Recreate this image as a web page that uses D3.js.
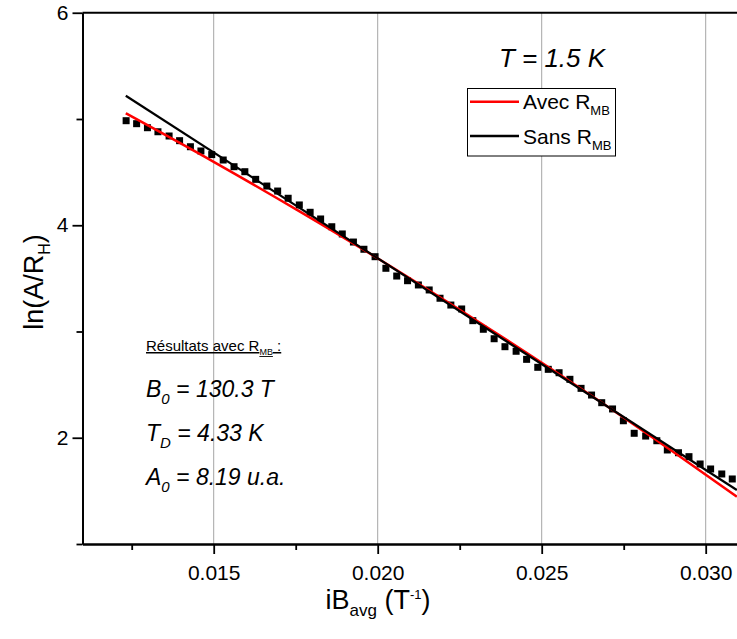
<!DOCTYPE html>
<html><head><meta charset="utf-8">
<script src="https://cdn.jsdelivr.net/npm/d3@7/dist/d3.min.js"></script>
<style>
body{margin:0;background:#fff}
text{font-family:"Liberation Sans",Arial,sans-serif;fill:#000}
</style>
</head><body>
<svg id="c" width="737" height="639"></svg>
<script>
// ---- data ----
const xPoints=[0.01233,0.01265,0.01298,0.01330,0.01364,0.01396,0.01429,0.01461,0.01494,0.01529,
0.01562,0.01595,0.01628,0.01662,0.01695,0.01727,0.01761,0.01794,0.01826,0.01860,
0.01892,0.01926,0.01958,0.01992,0.02025,0.02058,0.02091,0.02124,0.02157,0.02190,
0.02223,0.02256,0.02290,0.02322,0.02355,0.02388,0.02422,0.02454,0.02488,0.02520,
0.02553,0.02586,0.02620,0.02652,0.02683,0.02716,0.02749,0.02782,0.02817,0.02851,
0.02883,0.02917,0.02949,0.02983,0.03015,0.03049,0.03081];
const yPoints=[4.984,4.956,4.918,4.880,4.840,4.796,4.739,4.699,4.665,4.614,
4.551,4.504,4.432,4.369,4.322,4.254,4.191,4.122,4.059,3.986,
3.918,3.842,3.774,3.704,3.595,3.522,3.478,3.438,3.391,3.313,
3.249,3.212,3.102,3.021,2.932,2.857,2.814,2.738,2.663,2.644,
2.612,2.550,2.465,2.402,2.330,2.271,2.160,2.042,2.016,1.972,
1.885,1.859,1.822,1.753,1.706,1.659,1.612];
const redFitX=[0.01232,0.01500,0.01763,0.01992,0.02220,0.02449,0.02678,0.02906,0.03095];
const redFitY=[5.054,4.597,4.128,3.704,3.264,2.810,2.341,1.856,1.445];
const blackFitX=[0.01232,0.03095];
const blackFitY=[5.219,1.508];
const xMajorTicks=[0.015,0.020,0.025,0.030];
const xMinorTicks=[0.0125,0.0175,0.0225,0.0275];
const yMajorTicks=[2,4,6];
const yMinorTicks=[1,3,5];
const legendLabels=["Avec R","Sans R"];
const legendColors=["#ff0000","#000000"];

// ---- layout ----
const svg=d3.select("#c");
const L=82.5,R=738.5,T=12.75,B=544;
const x=d3.scaleLinear().domain([0.011,0.031]).range([L,R]);
const y=d3.scaleLinear().domain([1,6]).range([B,T]);

// grid
svg.append("g").selectAll("line").data(xMajorTicks).join("line")
  .attr("x1",d=>x(d)).attr("x2",d=>x(d)).attr("y1",T).attr("y2",B)
  .attr("stroke","#a6a6a6").attr("stroke-width",1);

// points
svg.append("g").selectAll("rect").data(xPoints).join("rect")
  .attr("x",(d,i)=>x(d)-3.5).attr("y",(d,i)=>y(yPoints[i])-3.5)
  .attr("width",7).attr("height",7).attr("fill","#000");

// fit lines
svg.append("path").datum(redFitX.map((v,i)=>[v,redFitY[i]]))
  .attr("d",d3.line().x(d=>x(d[0])).y(d=>y(d[1])).curve(d3.curveMonotoneX))
  .attr("fill","none").attr("stroke","#ff0000").attr("stroke-width",2.5);
svg.append("path").datum(blackFitX.map((v,i)=>[v,blackFitY[i]]))
  .attr("d",d3.line().x(d=>x(d[0])).y(d=>y(d[1])))
  .attr("fill","none").attr("stroke","#000").attr("stroke-width",2.2);

// axes
function styleAxis(g){g.selectAll("path,line").attr("stroke","#000").attr("stroke-width",1.8);
  g.selectAll("text").style("font-size","21px").style("font-family","'Liberation Sans',Arial,sans-serif");}
const xa=svg.append("g").attr("transform",`translate(0,${B})`)
  .call(d3.axisBottom(x).tickValues(xMajorTicks).tickFormat(d3.format(".3f")).tickSize(10).tickSizeOuter(0).tickPadding(11));
styleAxis(xa);
const xm=svg.append("g").attr("transform",`translate(0,${B})`)
  .call(d3.axisBottom(x).tickValues(xMinorTicks).tickFormat("").tickSize(6).tickSizeOuter(0));
styleAxis(xm);
const ya=svg.append("g").attr("transform",`translate(${L},0)`)
  .call(d3.axisLeft(y).tickValues(yMajorTicks).tickFormat(d3.format("d")).tickSize(10).tickSizeOuter(0).tickPadding(4));
styleAxis(ya);
const ym=svg.append("g").attr("transform",`translate(${L},0)`)
  .call(d3.axisLeft(y).tickValues(yMinorTicks).tickFormat("").tickSize(6).tickSizeOuter(0));
styleAxis(ym);
svg.append("line").attr("x1",L).attr("x2",R).attr("y1",T).attr("y2",T).attr("stroke","#000").attr("stroke-width",1.8);

// axis titles
const xt=svg.append("text").attr("x",378).attr("y",609).attr("text-anchor","middle").style("font-size","27px");
xt.append("tspan").text("iB");
xt.append("tspan").text("avg").attr("dy",7).style("font-size","17px");
xt.append("tspan").text(" (T").attr("dy",-7);
xt.append("tspan").text("-1").attr("dy",-10).style("font-size","13px");
xt.append("tspan").text(")").attr("dy",10);

const yt=svg.append("text").attr("transform","translate(43,282) rotate(-90)").attr("text-anchor","middle").style("font-size","27px");
yt.append("tspan").text("ln(A/R");
yt.append("tspan").text("H").attr("dy",7).style("font-size","16px");
yt.append("tspan").text(")").attr("dy",-7);

// T label
svg.append("text").attr("x",552).attr("y",67).attr("text-anchor","middle")
  .style("font-size","26px").style("font-style","italic").text("T = 1.5 K");

// legend
const lg=svg.append("g");
lg.append("rect").attr("x",467.5).attr("y",88.5).attr("width",148).attr("height",67.5)
  .attr("fill","#fff").attr("stroke","#000").attr("stroke-width",1);
legendLabels.forEach((lab,i)=>{
  const yy=101.7+i*34.3;
  lg.append("line").attr("x1",470).attr("x2",519).attr("y1",yy).attr("y2",yy)
    .attr("stroke",legendColors[i]).attr("stroke-width",2.5);
  const t=lg.append("text").attr("x",523).attr("y",yy+7.5).style("font-size","21px");
  t.append("tspan").text(lab);
  t.append("tspan").text("MB").attr("dy",6).style("font-size","13px");
});

// annotation
const a0=svg.append("text").attr("x",146).attr("y",351).style("font-size","15px")
  .attr("text-decoration","underline");
a0.append("tspan").text("Résultats avec R");
a0.append("tspan").text("MB").attr("dy",4).style("font-size","9px");
a0.append("tspan").text(" :").attr("dy",-4);

const annot=[["B","0"," = 130.3 T",397],["T","D"," = 4.33 K",441],["A","0"," = 8.19 u.a.",485]];
annot.forEach(a=>{
  const t=svg.append("text").attr("x",146).attr("y",a[3]).style("font-size","23px").style("font-style","italic");
  t.append("tspan").text(a[0]);
  t.append("tspan").text(a[1]).attr("dy",7).style("font-size","15px");
  t.append("tspan").text(a[2]).attr("dy",-7);
});
</script>
</body></html>
